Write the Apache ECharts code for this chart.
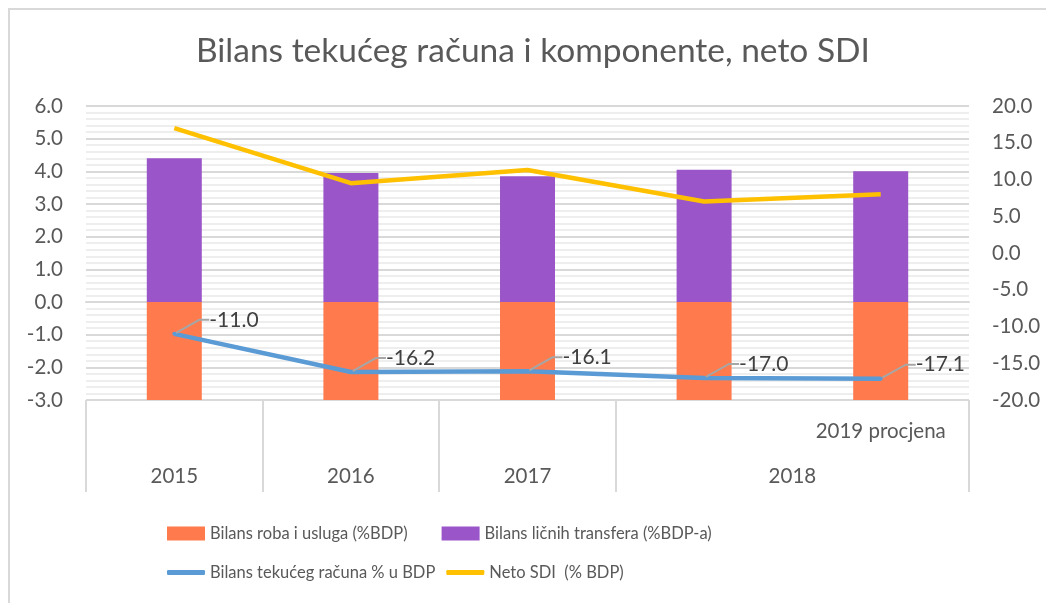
<!DOCTYPE html>
<html style="height: 100%">
<head>
<meta charset="utf-8">
</head>
<body style="height: 100%; margin: 0; background: #fff">
<div id="frame" style="position: absolute; left: 8px; top: 8px; width: 1100px; height: 700px; border-left: 2px solid #d9d9d9; border-top: 2px solid #d9d9d9;"></div>
<div id="container" style="position: absolute; left: 0; top: 0; width: 1046px; height: 603px"></div>
<script type="text/javascript" src="https://cdn.jsdelivr.net/npm/echarts/dist/echarts.min.js"></script>
<script type="text/javascript">
var dom = document.getElementById("container");
var myChart = echarts.init(dom);

// kategorije (gornji red ose)
var categories = ['2015', '2016', '2017', '2018', '2019 procjena'];
// donji red ose: godine i njihov polozaj (sredina grupe)
var yearLabels = ['2015', '2016', '2017', '2018'];
var yearPositions = [0.5, 1.5, 2.5, 4];
var groupBorders = [0, 1, 2, 3, 5];

// serije
var robaUsluga = [-21.5, -23.3, -23.4, -25.0, -25.3];   // odsjeceno na -3
var licniTransferi = [4.4, 3.95, 3.85, 4.05, 4.0];
var tekuciRacun = [-11.0, -16.2, -16.1, -17.0, -17.1];
var netoSDI = [17.0, 9.5, 11.3, 7.0, 8.0];

var font = 'Lato';
var grey = '#595959';

var option = {
    animation: false,
    textStyle: {fontFamily: font},
    title: {
        text: 'Bilans tekućeg računa i komponente, neto SDI',
        left: 191,
        top: 29,
        textStyle: {fontFamily: font, fontSize: 33.5, fontWeight: 'normal', color: grey}
    },
    legend: [
        {
            data: ['Bilans roba i usluga (%BDP)', 'Bilans ličnih transfera (%BDP-a)'],
            left: 162, top: 520,
            icon: 'rect', itemWidth: 38, itemHeight: 14, itemGap: 34,
            textStyle: {fontFamily: font, fontSize: 16.5, color: grey}
        },
        {
            data: ['Bilans tekućeg računa % u BDP', 'Neto SDI  (% BDP)'],
            left: 162, top: 559,
            icon: 'roundRect', itemWidth: 38, itemHeight: 5, itemGap: 11,
            textStyle: {fontFamily: font, fontSize: 16.5, color: grey}
        }
    ],
    grid: {left: 86, right: 77, top: 106, bottom: 203},
    xAxis: [
        {
            type: 'category',
            data: categories,
            axisLine: {lineStyle: {color: '#d9d9d9', width: 2}},
            axisTick: {show: false},
            axisLabel: {
                margin: 21, fontSize: 20.5, color: grey, fontFamily: font,
                formatter: function (v) { return v === '2019 procjena' ? v : ''; }
            }
        },
        {
            type: 'value',
            position: 'bottom',
            min: 0, max: 5,
            axisLine: {show: false, onZero: false},
            splitLine: {show: false},
            axisTick: {
                show: true, length: 92, customValues: groupBorders,
                lineStyle: {color: '#d9d9d9', width: 2}
            },
            axisLabel: {
                margin: 66, fontSize: 20.5, color: grey, fontFamily: font,
                customValues: yearPositions,
                formatter: function (v) { return yearLabels[yearPositions.indexOf(v)]; }
            }
        }
    ],
    yAxis: [
        {
            type: 'value',
            min: -3, max: 6, interval: 1,
            axisLine: {show: false},
            axisTick: {show: false},
            axisLabel: {
                margin: 23, fontSize: 20.5, color: grey, fontFamily: font,
                formatter: function (v) { return v.toFixed(1); }
            },
            splitLine: {lineStyle: {color: '#d9d9d9', width: 2}},
            minorTick: {show: false, splitNumber: 5},
            minorSplitLine: {show: true, lineStyle: {color: '#eeeeee', width: 2}}
        },
        {
            type: 'value',
            min: -20, max: 20, interval: 5,
            axisLine: {show: false},
            axisTick: {show: false},
            splitLine: {show: false},
            axisLabel: {
                margin: 23, fontSize: 20.5, color: grey, fontFamily: font,
                formatter: function (v) { return v.toFixed(1); }
            }
        }
    ],
    series: [
        {
            name: 'Bilans roba i usluga (%BDP)',
            type: 'bar', stack: 'bilans', barWidth: 55,
            itemStyle: {color: '#ff7b4d'},
            data: robaUsluga
        },
        {
            name: 'Bilans ličnih transfera (%BDP-a)',
            type: 'bar', stack: 'bilans', barWidth: 55,
            itemStyle: {color: '#9a55c9'},
            data: licniTransferi
        },
        {
            name: 'Bilans tekućeg računa % u BDP',
            type: 'line', yAxisIndex: 1,
            symbol: 'circle', symbolSize: 4,
            lineStyle: {color: '#5b9bd5', width: 4.5},
            itemStyle: {color: '#5b9bd5'},
            label: {
                show: true, position: 'right', distance: 4,
                fontSize: 21, color: '#404040', fontFamily: font,
                formatter: function (p) { return p.value.toFixed(1); }
            },
            labelLayout: {dx: 29, dy: -14},
            labelLine: {show: true, length2: 10, lineStyle: {color: '#a6a6a6', width: 2}},
            data: tekuciRacun
        },
        {
            name: 'Neto SDI  (% BDP)',
            type: 'line', yAxisIndex: 1,
            symbol: 'none',
            lineStyle: {color: '#ffc000', width: 4.5},
            itemStyle: {color: '#ffc000'},
            data: netoSDI
        }
    ]
};
myChart.setOption(option);
</script>
</body>
</html>
